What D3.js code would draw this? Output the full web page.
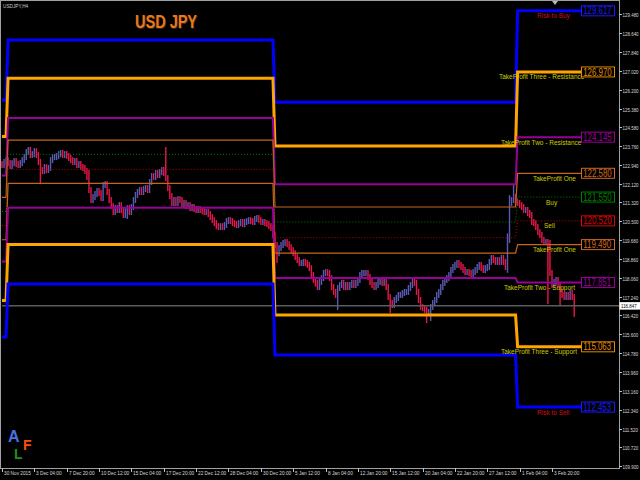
<!DOCTYPE html>
<html><head><meta charset="utf-8">
<script src="https://cdn.jsdelivr.net/npm/d3@7"></script>
<style>html,body{margin:0;padding:0;background:#000;overflow:hidden}svg{display:block}text{font-family:"Liberation Sans",Arial,sans-serif}</style>
</head><body><svg id="c" width="640" height="480"></svg>
<script>
// ---------------- DATA ----------------
const symbolLabel = "USDJPY,H4";
const title = "USD JPY";
const logoLetters = ["A","F","L"];
const firstOpen = 122.98;
const closes = [
122.94,123.07,123.15,123.02,122.89,123.02,123.11,122.98,122.94,123.02,123.15,123.28,123.50,123.59,123.37,123.41,123.54,123.37,123.07,122.72,
122.68,122.85,122.72,122.81,123.15,123.28,123.28,123.33,123.41,123.46,123.37,123.41,123.33,123.24,123.15,123.07,123.11,122.94,122.98,122.85,
122.81,122.68,122.59,121.85,121.42,121.55,121.68,121.81,121.72,121.51,122.07,122.11,121.77,121.42,121.16,120.90,121.07,120.99,121.20,120.99,
120.77,120.99,121.07,120.90,121.12,121.42,121.64,121.77,121.85,121.77,121.90,121.94,121.85,122.20,122.46,122.42,122.59,122.50,122.63,122.72,
122.59,122.37,121.94,121.59,121.29,121.42,121.29,121.46,121.42,121.25,121.29,121.16,121.20,121.07,121.12,121.03,120.99,121.03,120.99,120.94,
120.90,120.90,120.81,120.68,120.55,120.42,120.29,120.25,120.29,120.25,120.34,120.51,120.55,120.51,120.42,120.38,120.34,120.42,120.47,120.38,
120.47,120.51,120.55,120.51,120.47,120.60,120.64,120.55,120.47,120.47,120.42,120.38,120.29,120.21,119.90,
119.47,119.12,119.34,119.47,119.56,119.60,119.51,119.38,119.25,119.12,118.95,118.82,118.69,118.69,118.74,118.69,118.61,118.47,118.17,117.96,
117.83,117.65,117.87,118.04,118.26,118.30,118.26,118.04,117.65,117.44,117.31,117.61,117.74,117.83,117.65,117.74,117.65,117.74,117.83,117.74,
117.83,117.96,118.17,118.26,118.26,118.26,118.09,117.87,117.74,117.65,117.74,117.87,117.87,117.83,117.87,117.65,117.22,116.96,116.87,117.09,
117.18,117.31,117.31,117.39,117.44,117.44,117.61,117.74,117.87,117.83,117.44,117.09,116.79,116.74,116.66,116.53,116.57,116.79,116.96,117.09,
117.31,117.44,117.65,117.83,117.96,118.04,118.17,118.39,118.52,118.61,118.69,118.61,118.52,118.39,118.30,118.30,118.26,118.17,118.30,118.39,
118.52,118.61,118.47,118.39,118.47,118.52,118.74,118.91,118.82,118.74,118.82,118.74,118.91,118.74,118.52,119.69,121.29,121.42,121.55,121.33,
121.29,121.20,121.12,120.99,120.99,120.86,120.77,120.47,120.42,120.25,120.03,119.90,119.69,119.60,119.60,119.56,118.26,117.74,117.87,117.96,
117.74,117.44,117.31,117.22,117.31,117.22,117.39,117.22,116.85
];
// visible wicks: [bar, high, low]
const wicks = [[19,null,122.29],[42,null,122.42],[81,123.59,null],[62,null,120.73],[136,null,118.82],[155,null,117.80],
  [166,null,116.79],[192,null,116.66],[210,null,116.22],[212,null,116.31],[250,119.85,118.40],[251,121.50,null],[253,121.98,null],
  [270,null,117.05],[276,null,116.95],[283,null,116.49]];
const currentPrice = 116.847;

const timeLabels = ["30 Nov 2015","3 Dec 04:00","7 Dec 20:00","10 Dec 12:00","15 Dec 04:00","17 Dec 20:00","22 Dec 12:00","28 Dec 04:00","30 Dec 20:00","5 Jan 12:00","8 Jan 04:00","12 Jan 20:00","15 Jan 12:00","20 Jan 04:00","22 Jan 20:00","27 Jan 12:00","1 Feb 04:00","3 Feb 20:00"];
const timeLabelBars = [0,16,32,48,64,80,96,112,128,144,160,176,192,208,224,240,256,272];
const priceTicks = ["129.480","128.640","127.840","127.020","126.200","125.380","124.580","123.760","122.940","122.120","121.320","120.500","119.680","118.860","118.060","117.240","116.420","115.600","114.780","113.960","113.160","112.340","111.520","110.720","109.900"];

const levelNames = ["Risk to Buy","TakeProfit Three - Resistance","TakeProfit Two - Resistance","TakeProfit One","Buy","Sell","TakeProfit One","TakeProfit Two - Support","TakeProfit Three - Support","Risk to Sell"];
const periodStarts = [0,3,135,255];
const novLevels = [125.75,124.17,122.48,121.54,120.93,120.31,119.70,118.76,117.07,115.49];
const decLevels = [128.35,126.70,124.97,124.02,123.40,122.75,122.14,121.09,119.50,117.78];
const janLevels = [125.66,123.76,122.11,121.12,120.47,119.79,119.12,118.04,116.44,114.71];
const febLevels = [129.617,126.970,124.145,122.580,121.550,120.520,119.490,117.851,115.063,112.453];

// ---------------- STYLE ----------------
const levelStyle = [
 {c:"#0000ff",w:3,box:"#1a1aff",txt:"#d01010",tx:537},
 {c:"#ffa500",w:3,box:"#e08a00",txt:"#cccc00",tx:499},
 {c:"#990099",w:2,box:"#990099",txt:"#cccc00",tx:501},
 {c:"#c8641e",w:1.2,box:"#d2691e",txt:"#cccc00",tx:533},
 {c:"#008000",w:1,dash:"1,2",box:"#008000",txt:"#cccc00",tx:546},
 {c:"#c00000",w:1,dash:"1,2",box:"#e00000",txt:"#cccc00",tx:544},
 {c:"#c8641e",w:1.2,box:"#d2691e",txt:"#cccc00",tx:533},
 {c:"#990099",w:2,box:"#990099",txt:"#cccc00",tx:504},
 {c:"#ffa500",w:3,box:"#e08a00",txt:"#cccc00",tx:501},
 {c:"#0000ff",w:3,box:"#1a1aff",txt:"#d01010",tx:537}
];
const bull = "#5a5ab4", bear = "#e8174b";

function label(parent, x, y, str, size, fill, sy, weight) {
  return parent.append("text")
    .attr("transform", `translate(${x},${y}) scale(1,${sy||1})`)
    .attr("font-size", size + "px").attr("fill", fill)
    .attr("font-weight", weight || null).text(str);
}

// ---------------- CHART ----------------
const svg = d3.select("#c");
svg.append("rect").attr("width",640).attr("height",480).attr("fill","#000");
svg.append("defs").append("clipPath").attr("id","clip")
  .append("rect").attr("x",1).attr("y",1).attr("width",618).attr("height",467);

const x = d3.scaleLinear().domain([0, closes.length-1]).range([2, 2+2.022*(closes.length-1)]);
const y = d3.scaleLinear().domain([109.9, 129.48]).range([466, 14]);

const g = svg.append("g").attr("clip-path","url(#clip)");

// candles
const wickMap = new Map(wicks.map(w=>[w[0],w]));
const bars = closes.map((c,i)=>{
  const o = i===0 ? firstOpen : closes[i-1];
  let hi = Math.max(o,c), lo = Math.min(o,c);
  const w = wickMap.get(i);
  if (w) { if (w[1]!=null) hi = Math.max(hi,w[1]); if (w[2]!=null) lo = Math.min(lo,w[2]); }
  return {i,o,c,hi,lo};
});
g.selectAll("rect.bar").data(bars).join("rect").attr("class","bar")
  .attr("x",d=>x(d.i)-0.7).attr("width",1.4)
  .attr("y",d=>y(d.hi)-3).attr("height",d=>y(d.lo)-y(d.hi)+6)
  .attr("fill",d=>d.c>=d.o?bull:bear);

// current price line
g.append("line").attr("x1",2).attr("x2",619).attr("y1",y(currentPrice)).attr("y2",y(currentPrice))
  .attr("stroke","#5c5c5c").attr("stroke-width",1.5);

// level lines
const periods = [novLevels, decLevels, janLevels, febLevels];
const periodOf = i => { let p=0; periodStarts.forEach((s,k)=>{ if(i>=s) p=k; }); return p; };
levelStyle.forEach((st,L)=>{
  const pts = closes.map((_,i)=>[x(i), y(periods[periodOf(i)][L])]);
  pts.push([582, y(febLevels[L])]);
  g.append("path").attr("d", d3.line()(pts)).attr("fill","none")
    .attr("stroke",st.c).attr("stroke-width",st.w).attr("stroke-dasharray",st.dash||null);
});

// level texts
levelStyle.forEach((st,L)=>{
  label(svg, st.tx, y(febLevels[L])+7.5, levelNames[L], 6.5, st.txt, 1.1);
});

// price boxes
levelStyle.forEach((st,L)=>{
  const yy = y(febLevels[L]);
  svg.append("rect").attr("x",581.5).attr("y",yy-5).attr("width",33).attr("height",10)
    .attr("fill","#000").attr("stroke",st.box).attr("stroke-width",1);
  label(svg, 583.2, yy+3.6, febLevels[L].toFixed(3), 7.9, st.box, 1.3);
});

// frame
svg.append("rect").attr("x",0.5).attr("y",0.5).attr("width",619).attr("height",468)
  .attr("fill","none").attr("stroke","#a0a0a0").attr("stroke-width",1);

// price axis
const pa = svg.append("g");
priceTicks.forEach(t=>{
  const yy = Math.round(y(+t))+0.5;
  pa.append("line").attr("x1",619).attr("x2",622).attr("y1",yy).attr("y2",yy).attr("stroke","#c0c0c0");
  label(pa, 622.5, yy+2, t, 4.45, "#d8d8d8", 1.3);
});
const cy = y(currentPrice);
pa.append("rect").attr("x",619.5).attr("y",cy-3.5).attr("width",20.5).attr("height",7.5).attr("fill","#ffffff");
label(pa, 621, cy+2, currentPrice.toFixed(3), 4.45, "#000", 1.3);

// time axis
const ta = svg.append("g");
timeLabels.forEach((t,k)=>{
  const xx = Math.round(x(timeLabelBars[k]))+0.5;
  ta.append("line").attr("x1",xx).attr("x2",xx).attr("y1",468).attr("y2",472).attr("stroke","#c0c0c0");
  label(ta, xx+1.5, 475, t, 4.75, "#d8d8d8", 1.3);
});

// chart shift marker
svg.append("path").attr("d","M552,1 L558,1 L555,5 Z").attr("fill","#b8b8b8");

// symbol & title
label(svg, 3, 7.5, symbolLabel, 4.7, "#c8c8c8", 1.2);
label(svg, 136, 29, title, 14.5, "#2a2a2a", 1.25, "bold");
label(svg, 135, 28, title, 14.5, "#ee7711", 1.25, "bold");

// AFL logo as one text with coloured tspans
const logo = svg.append("text").attr("font-weight","bold");
logo.append("tspan").attr("x",8).attr("y",442).attr("font-size","16px").attr("fill","#4a70e0").text(logoLetters[0]);
logo.append("tspan").attr("x",23).attr("y",450).attr("font-size","14px").attr("fill","#ff4c10").text(logoLetters[1]);
logo.append("tspan").attr("x",14).attr("y",459).attr("font-size","14px").attr("fill","#1f8f1f").text(logoLetters[2]);
</script>
</body></html>
